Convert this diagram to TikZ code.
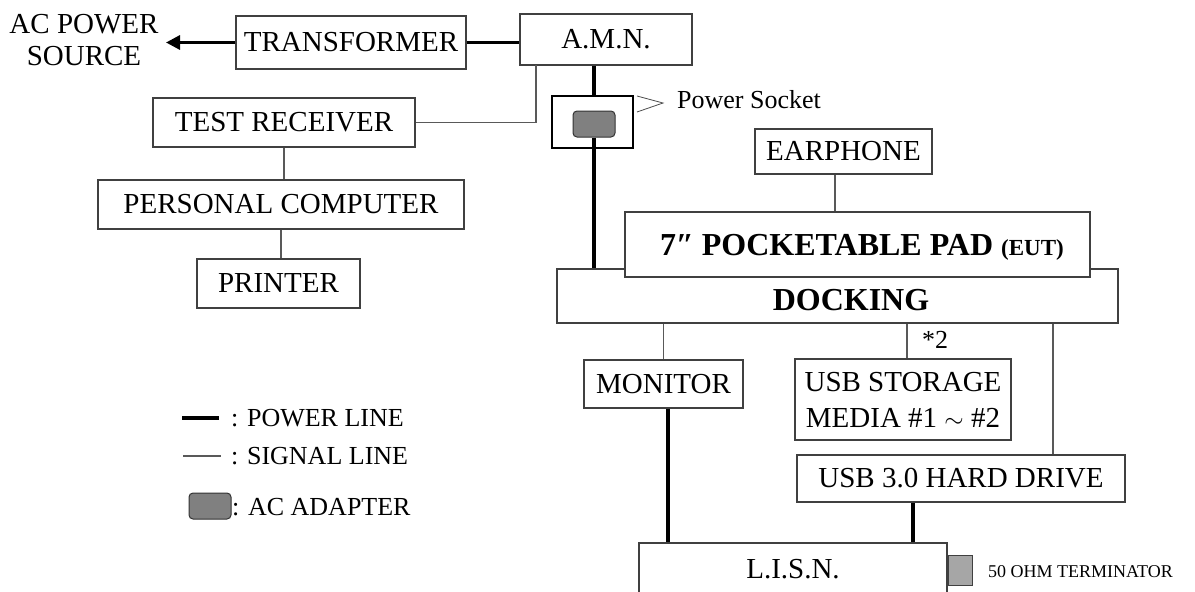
\documentclass[tikz,border=0pt]{standalone}
\usepackage{fontspec}
\setmainfont{Liberation Serif}
\usetikzlibrary{arrows.meta,calc}
\begin{document}
\begin{tikzpicture}[x=1pt,y=-1pt,
  box/.style={draw=black!75, line width=1.1pt, fill=white, inner sep=0pt,
    font=\fontsize{29}{32}\selectfont},
  adapt/.style={draw=black!80, line width=1pt, fill=black!50, rounded corners=4pt, inner sep=0pt},
  power/.style={line width=3.2pt, black},
  signal/.style={line width=1.1pt, black!65},
  lbl/.style={font=\fontsize{29}{32}\selectfont, inner sep=0pt},
  leg/.style={font=\fontsize{26}{28}\selectfont, inner sep=0pt, anchor=west},
  bigb/.style={font=\fontsize{32}{34}\selectfont\bfseries, inner sep=0pt}]
\path[use as bounding box] (0,0) rectangle (1195,592);
\clip (0,0) rectangle (1195,592);

% top row
\node[lbl, align=center] (acsource) at (84,40) {AC POWER\\SOURCE};
\coordinate (acsrc) at (166,42.5);
\node[box, minimum width=230, minimum height=53] (transformer) at (351,42.5) {TRANSFORMER};
\node[box, minimum width=172, minimum height=51] (amn) at (606,39.5) {A.M.N.};

% left column
\node[box, minimum width=262, minimum height=49] (testrx) at (284,122.5) {TEST RECEIVER};
\node[box, minimum width=366, minimum height=49] (pc) at (281,204.5) {PERSONAL COMPUTER};
\node[box, minimum width=163, minimum height=49] (printer) at (278.5,283.5) {PRINTER};

% power socket
\node[draw=black, line width=1.6pt, fill=white, minimum width=81, minimum height=52, inner sep=0pt] (socket) at (592.5,122) {};
\node[adapt, minimum width=42, minimum height=26] (adapter) at (594,124) {};
\coordinate (arA) at (637,96);
\coordinate (arB) at (663,103);
\coordinate (arC) at (637,112);
\draw[line width=0.8pt, black!70] (arA) -- (arB) -- (arC);
\node[font=\fontsize{26}{28}\selectfont, inner sep=0pt, anchor=base west] (socketlbl) at (677,108) {Power Socket};

% EUT and docking
\node[box, minimum width=177, minimum height=45] (earphone) at (843.5,151.5) {EARPHONE};
\node[box, minimum width=561, minimum height=54] (docking) at (837.5,296) {};
\node[bigb] (dockinglbl) at (851,300) {DOCKING};
\node[box, minimum width=465, minimum height=65] (eut) at (857.5,244.5) {};
\node[bigb] (eutlbl) at (862,247) {7″ POCKETABLE PAD {\fontsize{23}{25}\selectfont(EUT)}};

% bottom right
\node[box, minimum width=159, minimum height=48] (monitor) at (663.5,384) {MONITOR};
\node[box, minimum width=216, minimum height=81, align=center, font=\fontsize{29}{36}\selectfont] (usb) at (903,399.5) {USB STORAGE\\MEDIA \#1 $\sim$ \#2};
\node[box, minimum width=328, minimum height=47] (hdd) at (961,478.5) {USB 3.0 HARD DRIVE};
\node[box, minimum width=308, minimum height=52] (lisn) at (793,569) {L.I.S.N.};
\node[draw=black!75, line width=1pt, fill=black!35, minimum width=24, minimum height=30, inner sep=0pt] (term) at (960,570) {};
\node[font=\fontsize{18}{20}\selectfont, inner sep=0pt, anchor=west] (termlbl) at (988,572) {50 OHM TERMINATOR};
\node[font=\fontsize{26}{28}\selectfont, inner sep=0pt] (star) at (935,340) {*2};

% legend
\coordinate (lpA) at (182,418);
\coordinate (lpB) at (219,418);
\draw[power] (lpA) -- (lpB);
\node[leg] (legpower) at (231,418) {: POWER LINE};
\coordinate (lsA) at (183,456);
\coordinate (lsB) at (221,456);
\draw[signal] (lsA) -- (lsB);
\node[leg] (legsignal) at (231,456) {: SIGNAL LINE};
\node[adapt, minimum width=42, minimum height=26] (legadapter) at (210,506) {};
\node[leg] (legadapt) at (232,507) {: AC ADAPTER};

% connectors: power
\draw[power, -{Triangle[length=14pt,width=14pt]}] (transformer.west) -- (acsrc);
\draw[power] (transformer.east) -- (transformer.east -| amn.west);
\draw[power] (adapter.north |- amn.south) -- (adapter.north |- socket.north);
\draw[power] (adapter.south) -- (adapter.south |- docking.north);
\draw[power] ([xshift=4.5pt]monitor.south) -- ([xshift=4.5pt]monitor.south |- lisn.north);
\draw[power] ([xshift=-48pt]hdd.south) -- ([xshift=-48pt]hdd.south |- lisn.north);

% connectors: signal
\coordinate (amntap) at (536,65);
\draw[signal] (testrx.east) -| (amntap);
\draw[signal] (testrx.south) -- (testrx.south |- pc.north);
\draw[signal] (pc.south) -- (pc.south |- printer.north);
\draw[signal] ([xshift=-8.5pt]earphone.south) -- ([xshift=-8.5pt]earphone.south |- eut.north);
\draw[signal] (monitor.north) -- (monitor.north |- docking.south);
\draw[signal] ([xshift=4pt]usb.north) -- ([xshift=4pt]usb.north |- docking.south);
\draw[signal] ([xshift=92pt]hdd.north) -- ([xshift=92pt]hdd.north |- docking.south);
\end{tikzpicture}
\end{document}
